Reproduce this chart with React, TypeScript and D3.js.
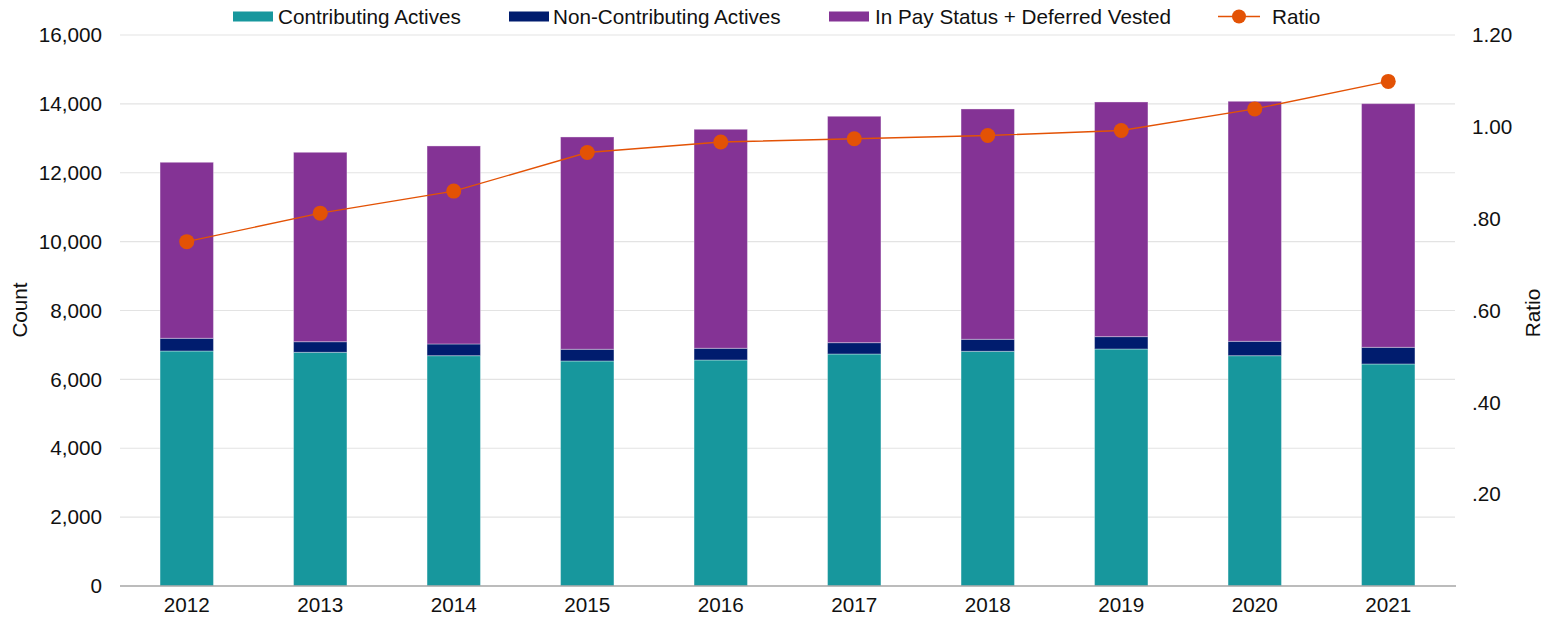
import React from "react";
import * as d3 from "d3";

const years = ["2012","2013","2014","2015","2016","2017","2018","2019","2020","2021"];
const contributing = [6824, 6786, 6688, 6534, 6563, 6737, 6815, 6882, 6688, 6447];
const nonContributing = [369, 308, 340, 340, 340, 329, 349, 359, 417, 484];
const inPay = [5111, 5500, 5750, 6165, 6359, 6574, 6688, 6814, 6970, 7076];
const ratio = [0.750, 0.812, 0.860, 0.944, 0.967, 0.974, 0.981, 0.992, 1.039, 1.099];
const leftTicks = [0, 2000, 4000, 6000, 8000, 10000, 12000, 14000, 16000];
const rightTicks = [0.2, 0.4, 0.6, 0.8, 1.0, 1.2];

const seriesNames = ["Contributing Actives", "Non-Contributing Actives", "In Pay Status + Deferred Vested"];
const colors = ["#17979D", "#001C6E", "#843395"];
const lineColor = "#E35205";

const W = 1554, H = 624;
const M = { left: 120, right: 1455, top: 35, bottom: 586 };
const FONT = "'Liberation Sans', Arial, sans-serif";
const FS = 20.7;

export default function App() {
  const x = d3.scaleBand().domain(years).range([M.left, M.right]).paddingInner(0.6).paddingOuter(0.3);
  const y = d3.scaleLinear().domain([0, 16000]).range([M.bottom, M.top]);
  const y2 = d3.scaleLinear().domain([0, 1.2]).range([M.bottom, M.top]);

  const rows = years.map((yr, i) => ({ year: yr, c: contributing[i], n: nonContributing[i], p: inPay[i] }));
  const stack = d3.stack<any>().keys(["c", "n", "p"])(rows);

  const line = d3.line<number>().x((_, i) => (x(years[i]) as number) + x.bandwidth() / 2).y((d) => y2(d));
  const fmtL = d3.format(",");
  const fmtR = (v: number) => (v >= 1 ? v.toFixed(2) : v.toFixed(2).replace(/^0/, ""));

  const legendItems = [
    { x: 233, tx: 278, label: seriesNames[0], color: colors[0], type: "rect" },
    { x: 509, tx: 553, label: seriesNames[1], color: colors[1], type: "rect" },
    { x: 829, tx: 875, label: seriesNames[2], color: colors[2], type: "rect" },
    { x: 1218, tx: 1272, label: "Ratio", color: lineColor, type: "line" },
  ];

  return (
    <svg width={W} height={H} style={{ position: "absolute", left: 0, top: 0, background: "#fff" }} fontFamily={FONT}>
      {leftTicks.map((t) => (
        <g key={t}>
          {t > 0 && <line x1={M.left} x2={M.right} y1={y(t)} y2={y(t)} stroke="#E3E3E3" strokeWidth={1.2} />}
          <text x={102} y={y(t)} dy="0.35em" textAnchor="end" fontSize={FS} fill="#111">{fmtL(t)}</text>
        </g>
      ))}
      {rightTicks.map((t) => (
        <text key={t} x={1472} y={y2(t)} dy="0.35em" textAnchor="start" fontSize={FS} fill="#111">{fmtR(t)}</text>
      ))}
      {stack.map((s, si) => (
        <g key={si} fill={colors[si]}>
          {s.map((d, i) => (
            <rect key={i} x={x(years[i])} width={x.bandwidth()} y={y(d[1])} height={y(d[0]) - y(d[1])}
              stroke="#ffffff" strokeOpacity={0.35} strokeWidth={1} />
          ))}
        </g>
      ))}
      <line x1={M.left} x2={M.right + 1} y1={M.bottom} y2={M.bottom} stroke="#A6A6A6" strokeWidth={1.3} />
      {years.map((yr) => (
        <text key={yr} x={(x(yr) as number) + x.bandwidth() / 2} y={612} textAnchor="middle" fontSize={FS} fill="#111">{yr}</text>
      ))}
      <path d={line(ratio) || ""} fill="none" stroke={lineColor} strokeWidth={1.4} />
      {ratio.map((r, i) => (
        <circle key={i} cx={(x(years[i]) as number) + x.bandwidth() / 2} cy={y2(r)} r={7.5} fill={lineColor} />
      ))}
      <text transform={`translate(27,310) rotate(-90)`} textAnchor="middle" fontSize={FS} fill="#111">Count</text>
      <text transform={`translate(1540,313) rotate(-90)`} textAnchor="middle" fontSize={FS} fill="#111">Ratio</text>
      {legendItems.map((it) => (
        <g key={it.label}>
          {it.type === "rect" ? (
            <rect x={it.x} y={11.5} width={40} height={10} fill={it.color} />
          ) : (
            <g>
              <line x1={it.x} x2={it.x + 42} y1={16.5} y2={16.5} stroke={it.color} strokeWidth={1.4} />
              <circle cx={it.x + 21} cy={16.5} r={7} fill={it.color} />
            </g>
          )}
          <text x={it.tx} y={16.5} dy="0.35em" fontSize={FS} fill="#111">{it.label}</text>
        </g>
      ))}
    </svg>
  );
}
